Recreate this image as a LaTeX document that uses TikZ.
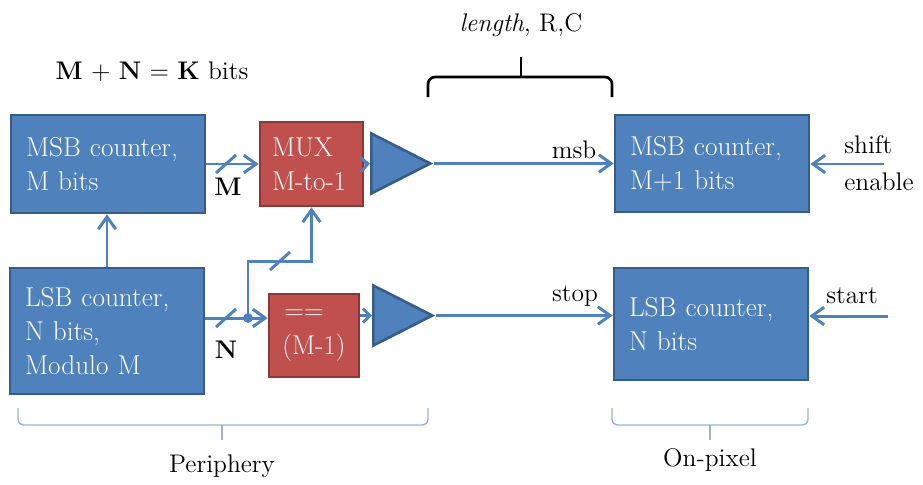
\documentclass[tikz,border=0pt]{standalone}
\usetikzlibrary{arrows.meta,shapes.geometric}
\definecolor{boxblue}{RGB}{79,129,189}
\definecolor{edgeblue}{RGB}{56,93,138}
\definecolor{boxred}{RGB}{192,80,77}
\definecolor{edgered}{RGB}{140,56,54}
\definecolor{braceblue}{RGB}{149,179,215}
\begin{document}
\begin{tikzpicture}[x=0.02cm,y=-0.02cm,
        counter/.style={rectangle,draw=edgeblue,fill=boxblue,line width=1.5pt,text=white,align=left,inner ysep=0pt,inner xsep=0.3cm,text width=3.28cm,font=\fontsize{15.5}{19.5}\selectfont},
        logic/.style={rectangle,draw=edgered,fill=boxred,line width=1.5pt,text=white,inner ysep=0pt,font=\fontsize{15.5}{19.5}\selectfont},
        amp/.style={isosceles triangle,isosceles triangle stretches,draw=edgeblue,fill=boxblue,line width=1.5pt,inner sep=0pt,minimum width=1.2cm,minimum height=1.18cm,anchor=west},
        sig/.style={draw=boxblue,line width=1.7pt},
        lbl/.style={font=\fontsize{14.5}{21}\selectfont},
        >={Straight Barb[length=7pt,width=10pt]}
        ]
    
        \useasboundingbox (0,0) rectangle (923,484);
        \node (msbL) at (108,164) [counter,minimum height=1.96cm] {MSB counter,\\M bits};
        \node (lsbL) at (107,331) [counter,minimum height=2.52cm] {LSB counter,\\N bits,\\Modulo M};
        \node (mux) at (311.5,164) [logic,align=left,inner xsep=0.24cm,text width=1.58cm,minimum height=1.68cm] {MUX\\M-to-1};
        \node (eq) at (314,335.5) [logic,align=center,minimum width=1.8cm,minimum height=1.66cm] {==\rule{0.4cm}{0pt}\\(M-1)};
        \node (ampT) at (370,163.5) [amp] {};
        \node (ampB) at (372,315.5) [amp] {};
        \node (msbR) at (712,163.5) [counter,minimum height=1.94cm] {MSB counter,\\M+1 bits};
        \node (lsbR) at (711,324) [counter,minimum height=2.24cm] {LSB counter,\\N bits};
        \coordinate (tap) at (248,318);
        \coordinate (kink) at (248,261);
        \coordinate (busM) at (226,164);
        \coordinate (busN) at (226,318);
        \coordinate (busK) at (280,261);
        \coordinate (shiftIn) at (884,164);
        \coordinate (startIn) at (888,316);
        \draw[sig,->] (msbL.east) -- (mux.west);
        \draw[sig] (tap -| lsbL.east) -- (tap);
        \draw[sig,->] (tap) -- (tap -| eq.west);
        \draw[sig,->] (tap) -- (kink) -| (mux.south);
        \fill[boxblue] (tap) circle (2.8pt);
        \draw[sig] (busM) ++(-10,9) -- ++(20,-18);
        \draw[sig] (busN) ++(-10,9) -- ++(20,-18);
        \draw[sig] (busK) ++(-10,9) -- ++(20,-18);
        \draw[sig,->] (lsbL.north) -- (lsbL.north |- msbL.south);
        \draw[sig,->,>={Straight Barb[length=4pt,width=8pt]}] (mux.east) -- (ampT.west);
        \draw[sig,->,>={Straight Barb[length=4pt,width=8pt]}] (ampB.west -| eq.east) -- (ampB.west);
        \draw[sig,->] (ampT.apex) -- (ampT.apex -| msbR.west);
        \draw[sig,->] (ampB.apex) -- (ampB.apex -| lsbR.west);
        \draw[sig,->] (shiftIn) -- (shiftIn -| msbR.east);
        \draw[sig,->] (startIn) -- (startIn -| lsbR.east);
        \node (sumLbl) at (152,72) [lbl] {\textbf{M} + \textbf{N} = \textbf{K} bits};
        \node (rcLbl) at (521,25) [lbl] {\textit{length}, R,C};
        \node (mLbl) at (228,187) [lbl] {\textbf{M}};
        \node (nLbl) at (226,350) [lbl] {\textbf{N}};
        \node (msbLbl) at (574,150) [lbl] {msb};
        \node (stopLbl) at (575,296) [lbl] {stop};
        \node (shiftLbl) at (844,163) [lbl,anchor=west,align=left,inner sep=0pt] {shift\\enable};
        \node (startLbl) at (852,296) [lbl] {start};
        \node (periLbl) at (222,466) [lbl] {Periphery};
        \node (pixLbl) at (710,460) [lbl] {On-pixel};
        % braces
        \draw[line width=1.5pt,rounded corners=4pt] (428,97) -- (428,77) -- (612,77) -- (612,97);
        \draw[line width=1.5pt] (521,77) -- (521,57);
        \draw[braceblue,line width=0.8pt,rounded corners=3pt] (18,408) -- (18,425) -- (428,425) -- (428,408);
        \draw[braceblue,line width=0.8pt] (222,425) -- (222,440);
        \draw[braceblue,line width=0.8pt,rounded corners=3pt] (612,408) -- (612,425) -- (808,425) -- (808,408);
        \draw[braceblue,line width=0.8pt] (710,425) -- (710,440);
      \end{tikzpicture}
\end{document}
